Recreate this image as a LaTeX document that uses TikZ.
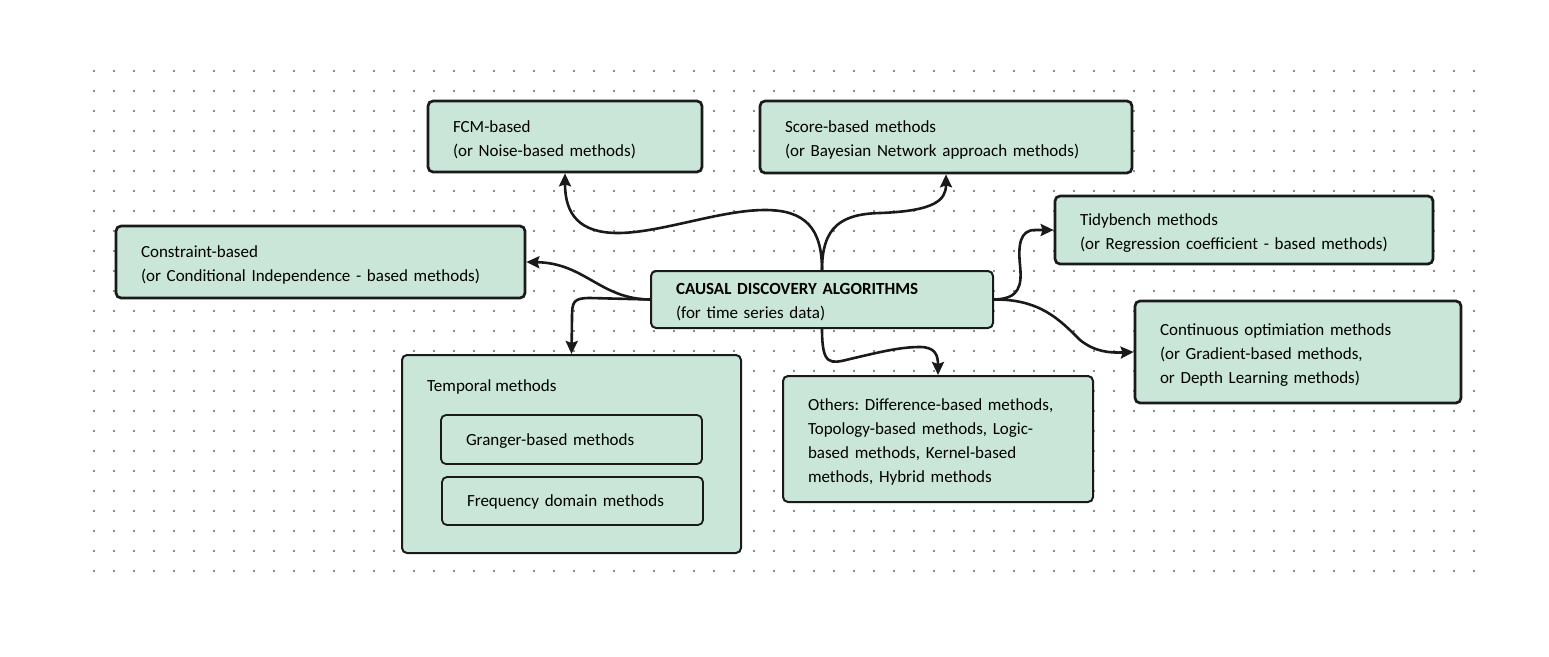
\documentclass[tikz,border=0pt]{standalone}
\usepackage{fontspec}
\setmainfont{Carlito}
\usepackage{xcolor}
\usetikzlibrary{arrows.meta}
\definecolor{mint}{RGB}{201,230,216}
\definecolor{ink}{RGB}{26,26,26}
\frenchspacing

\begin{document}
\begin{tikzpicture}[x=1pt,y=-1pt,
 box/.style={draw=ink,fill=mint,rounded corners=5pt,line width=2.7pt,
  align=left,inner xsep=25pt,inner ysep=0pt,
  execute at end node={\endgraf\vspace*{-6pt}},
  font=\fontsize{17}{24}\selectfont},
 thinbox/.style={box,line width=2pt},
 link/.style={draw=ink,line width=2.6pt,
  -{Stealth[length=13pt,width=12pt,inset=2pt]}}]
 \useasboundingbox (0,0) rectangle (1549,656);
 \foreach \i in {0,...,69}
  \foreach \j in {0,...,25}
   \fill[ink] (94+20*\i,71+20*\j) circle (0.8);
 \node[box,text width=224pt,minimum height=71pt] (fcm) at (565,136.5)
  {FCM-based\\(or Noise-based methods)};
 \node[box,text width=322pt,minimum height=72pt] (score) at (946,137)
  {Score-based methods\\(or Bayesian Network approach methods)};
 \node[box,text width=328pt,minimum height=68pt] (tidy) at (1244,230)
  {Tidybench methods\\(or Regression coefficient - based methods)};
 \node[box,text width=359pt,minimum height=72pt] (constraint) at (320.5,262)
  {Constraint-based\\(or Conditional Independence - based methods)};
 \node[thinbox,text width=292pt,minimum height=57pt] (centre) at (822,299.5)
  {\textbf{CAUSAL DISCOVERY ALGORITHMS}\\(for time series data)};
 \node[box,text width=276pt,minimum height=102pt] (continuous) at (1298,352)
  {Continuous optimiation methods\\(or Gradient-based methods,\\or Depth Learning methods)};
 \node[thinbox,minimum width=339pt,minimum height=198pt] (temporal) at (571.5,454) {};
 \node[anchor=west,inner sep=0pt,font=\fontsize{17}{24}\selectfont] (temporaltitle) at (427,387)
  {Temporal methods};
 \node[thinbox,line width=1.8pt,text width=211pt,minimum height=49pt] (granger) at (571.5,439.5)
  {Granger-based methods};
 \node[thinbox,line width=1.8pt,text width=211pt,minimum height=48pt] (frequency) at (572.5,501)
  {Frequency domain methods};
 \node[thinbox,text width=260pt,minimum height=126pt] (others) at (938,439)
  {Others: Difference-based methods,\\Topology-based methods, Logic-\\based methods, Kernel-based\\methods, Hybrid methods};
 \draw[link] (centre.north) .. controls (822,228) and (805,210) .. (765,210)
  .. controls (720,210) and (660,233) .. (618,233)
  .. controls (580,233) and (565,215) .. (fcm.south);
 \draw[link] (centre.north) .. controls (822,226) and (842,214) .. (880,213)
  .. controls (935,211) and (946,200) .. (score.south);
 \draw[link] (centre.west) .. controls (600,299) and (585,263) .. (constraint.east);
 \draw[link] (centre.west) -- (590,298) .. controls (573,298) and (572,302) .. (572,318)
  -- (temporal.north);
 \draw[link] (centre.south) .. controls (822,366) and (830,364) .. (850,359)
  .. controls (880,352) and (900,347) .. (920,347)
  .. controls (935,347) and (938,355) .. (others.north);
 \draw[link] (centre.east) .. controls (1020,299) and (1022,285) .. (1020,265)
  .. controls (1018,245) and (1020,230) .. (1035,230) -- (tidy.west);
 \draw[link] (centre.east) .. controls (1040,299) and (1060,320) .. (1080,340)
  .. controls (1095,352) and (1110,353) .. (continuous.west);
\end{tikzpicture}
\end{document}
